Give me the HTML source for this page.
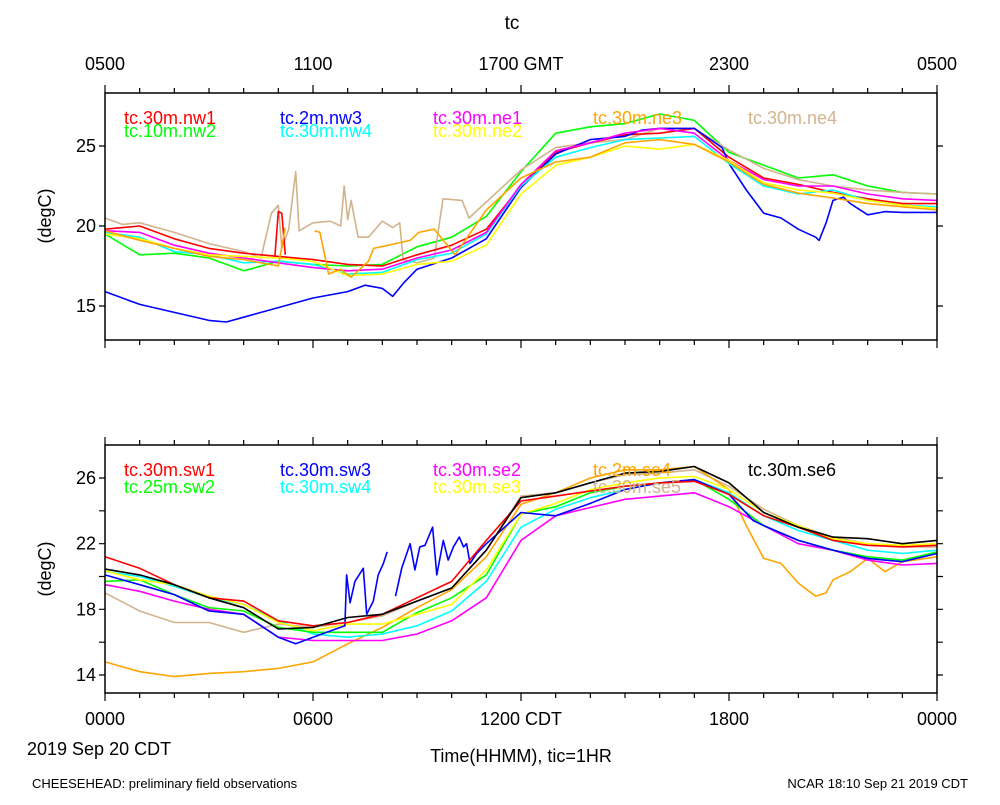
<!DOCTYPE html>
<html><head><meta charset="utf-8"><style>
body{margin:0;background:#fff;}
svg text{font-family:"Liberation Sans",sans-serif;}
</style></head><body>
<svg id="c" width="1000" height="800" xmlns="http://www.w3.org/2000/svg">
<text x="512" y="29" font-size="19" text-anchor="middle">tc</text>
<g font-size="18" text-anchor="middle">
<text x="105" y="70">0500</text><text x="313" y="70">1100</text><text x="521" y="70">1700 GMT</text><text x="729" y="70">2300</text><text x="937" y="70">0500</text>
</g>
<g font-size="18" text-anchor="middle">
<text x="105" y="725">0000</text><text x="313" y="725">0600</text><text x="521" y="725">1200 CDT</text><text x="729" y="725">1800</text><text x="937" y="725">0000</text>
</g>
<text x="27" y="755" font-size="18">2019 Sep 20 CDT</text>
<text x="521" y="762" font-size="18" text-anchor="middle">Time(HHMM), tic=1HR</text>
<text x="32" y="788" font-size="13">CHEESEHEAD: preliminary field observations</text>
<text x="968" y="788" font-size="13" text-anchor="end">NCAR 18:10 Sep 21 2019 CDT</text>
<text transform="translate(51,216) rotate(-90)" font-size="18" text-anchor="middle">(degC)</text>
<text transform="translate(51,569) rotate(-90)" font-size="18" text-anchor="middle">(degC)</text>
<g id="top"></g>
<g id="bot"></g>
</svg>
<script>
const hours=[0,1,2,3,4,5,6,7,8,9,10,11,12,13,14,15,16,17,18,19,20,21,22,23,24];
// top panel
const nw1=[19.8,20.0,19.2,18.6,18.3,18.1,17.9,17.6,17.5,18.2,18.8,19.8,22.5,24.6,25.2,25.7,25.8,26.1,24.3,23.0,22.6,22.1,21.7,21.4,21.4];
const nw1SpikeT=[4.9,5.0,5.1,5.2];
const nw1SpikeV=[18.1,20.9,20.8,18.2];
const nw2=[19.5,18.2,18.3,18.0,17.2,17.8,17.6,17.5,17.6,18.7,19.3,20.6,23.4,25.8,26.2,26.4,27.0,26.6,24.6,23.8,23.0,23.2,22.5,22.1,22.0];
const nw3T=[0,1,2,3,3.5,4,5,6,7,7.5,8,8.3,8.6,9,10,11,12,13,14,15,15.5,16,17,17.8,18,18.5,19,19.5,20,20.5,20.6,20.8,21,21.3,21.5,22,22.5,23,24];
const nw3V=[15.9,15.1,14.6,14.1,14.0,14.3,14.9,15.5,15.9,16.3,16.1,15.6,16.4,17.3,18.0,19.2,22.4,24.5,25.4,25.6,26.0,26.1,26.1,24.9,23.9,22.25,20.8,20.5,19.8,19.3,19.1,20.2,21.6,21.8,21.4,20.7,20.9,20.85,20.85];
const nw4=[19.6,19.3,18.4,18.2,17.7,17.8,17.6,17.0,17.1,17.9,18.3,19.5,22.5,24.3,24.9,25.4,25.5,25.6,23.9,22.5,22.0,22.25,21.6,21.3,21.2];
const ne1=[19.7,19.6,18.8,18.3,18.0,17.7,17.4,17.2,17.3,18.0,18.5,19.6,22.6,24.7,25.2,25.8,26.1,25.8,24.1,22.9,22.5,22.5,22.0,21.7,21.6];
const ne2=[19.5,19.2,18.6,18.2,18.1,18.0,17.8,16.9,17.0,17.6,17.8,18.8,22.0,23.8,24.3,25.0,24.8,25.1,24.1,22.7,22.25,22.05,21.6,21.3,21.1];
const ne3T=[0,1,2,3,4,5,5.2,null,6.05,6.2,6.45,6.8,7.1,7.4,7.6,7.75,8.8,9.05,9.5,10.1,11,12,13,14,15,16,17,18,19,20,21,22,23,24];
const ne3V=[19.7,19.1,18.6,18.1,17.9,17.5,19.9,null,19.7,19.6,17.0,17.3,16.8,17.4,17.8,18.6,19.1,19.6,19.8,18.2,21.0,23.0,24.0,24.3,25.2,25.4,25.1,24.0,22.6,22.05,21.75,21.4,21.2,21.0];
const ne4T=[0,0.5,1,2,3,4,4.5,4.8,5.0,5.1,5.3,5.5,5.6,6,6.5,6.8,6.9,7.0,7.1,7.3,7.6,8,8.3,8.5,8.6,9,9.5,9.75,10.3,10.5,11,12,13,14,15,16,17,18,19,20,21,22,23,24];
const ne4V=[20.5,20.1,20.2,19.6,18.9,18.4,18.0,20.8,21.3,18.6,19.8,23.4,19.7,20.2,20.3,20.0,22.5,20.4,21.6,19.3,19.3,20.3,19.9,20.2,17.9,17.7,18.0,21.7,21.6,20.5,21.5,23.5,24.9,25.2,25.4,26.1,26.1,24.75,23.6,22.9,22.5,22.25,22.1,22.0];
// bottom panel
const sw1=[21.2,20.5,19.5,18.7,18.5,17.3,17.0,17.2,17.7,18.7,19.7,22.2,24.6,24.9,25.2,25.5,25.7,25.8,25.0,23.7,23.0,22.2,21.9,21.8,21.9];
const sw2=[19.7,19.8,18.9,18.1,17.9,16.9,16.6,16.6,16.6,17.8,18.7,20.1,23.8,24.25,25.1,25.5,25.7,25.9,24.7,23.1,22.2,21.6,21.2,21.0,21.5];
const sw3T=[0,1,2,3,4,5,5.5,6,6.92,6.97,7.07,7.21,7.45,7.55,7.74,7.88,8.03,8.14,null,8.38,8.56,8.8,8.94,9.08,9.23,9.45,9.57,9.76,9.9,10.05,10.22,10.34,10.43,10.53,10.72,11,12,13,14,15,16,17,18,18.7,19,20,21,22,23,24];
const sw3V=[20.1,19.5,18.9,17.9,17.7,16.3,15.9,16.3,17.0,20.1,18.4,19.7,20.5,17.7,18.5,20.1,20.8,21.5,null,18.8,20.5,22.0,20.4,21.8,21.9,23.0,20.1,22.2,21.0,21.8,22.4,21.8,22.0,20.8,21.4,22.0,23.9,23.7,24.45,25.3,25.7,25.9,25.0,23.4,23.1,22.2,21.6,21.1,20.9,21.4];
const sw4=[20.3,20.0,19.4,18.7,18.3,17.3,16.5,16.3,16.5,17.0,17.9,19.7,23.0,24.1,24.8,25.3,25.7,25.9,25.1,23.7,22.8,22.2,21.6,21.4,21.6];
const se2=[19.5,19.1,18.5,18.0,17.7,16.3,16.1,16.1,16.1,16.5,17.3,18.7,22.2,23.7,24.2,24.7,24.9,25.1,24.25,23.1,22.0,21.6,21.0,20.7,20.8];
const se3=[20.35,19.8,19.5,18.8,18.3,17.2,16.7,17.1,17.1,17.7,18.3,20.4,23.8,24.45,25.3,25.7,26.0,26.1,25.3,23.9,23.1,22.3,22.0,21.9,22.0];
const se4T=[0,1,2,3,4,5,6,7,8,9,10,11,12,13,14,15,16,17,18,18.5,19,19.5,20,20.5,20.8,21,21.5,22,22.5,23,24];
const se4V=[14.8,14.2,13.9,14.1,14.2,14.4,14.8,15.9,16.9,18.1,19.2,21.2,24.4,25.1,26.0,26.5,26.5,26.7,25.3,23.1,21.1,20.8,19.6,18.8,19.0,19.8,20.3,21.1,20.3,20.9,21.2];
const se5=[19.0,17.9,17.2,17.2,16.6,17.1,16.9,17.2,17.6,18.5,19.3,21.6,24.9,25.1,25.7,26.2,26.3,26.5,25.5,24.1,23.1,22.4,22.0,21.8,21.8];
const se6=[20.45,20.1,19.5,18.7,18.1,16.8,16.9,17.5,17.7,18.5,19.3,21.6,24.8,25.1,25.7,26.3,26.4,26.7,25.7,23.9,23.0,22.4,22.3,22.0,22.2];

const NS='http://www.w3.org/2000/svg';
const X0=105,X1=937;
function xs(h){return X0+(X1-X0)*h/24;}
const topP={y0:93,y1:340,vmin:12.875,vmax:28.3125};
const botP={y0:445,y1:693,vmin:14-18/16.42,vmax:26+33/16.42};
function ys(p,v){return p.y1-(v-p.vmin)/(p.vmax-p.vmin)*(p.y1-p.y0);}
function mk(tag,par){const e=document.createElementNS(NS,tag);par.appendChild(e);return e;}
function line(g,p,t,v,color,name){
  let d='',pen=false;
  for(let i=0;i<t.length;i++){
    if(t[i]===null||v[i]===null){pen=false;continue;}
    d+=(pen?'L':'M')+xs(t[i]).toFixed(1)+','+ys(p,v[i]).toFixed(1);pen=true;
  }
  const e=mk('path',g);
  e.setAttribute('d',d);e.setAttribute('fill','none');e.setAttribute('stroke',color);
  e.setAttribute('stroke-width','1.6');e.setAttribute('stroke-linejoin','round');
  
  
}
function frame(g,p,yt,yl){
  const r=mk('rect',g);
  r.setAttribute('x',X0);r.setAttribute('y',p.y0);r.setAttribute('width',X1-X0);r.setAttribute('height',p.y1-p.y0);
  r.setAttribute('fill','none');r.setAttribute('stroke','#000');r.setAttribute('stroke-width','1.5');
  
  
  let d='';
  for(let h=0;h<=24;h++){const x=xs(h),L=h%6===0?8:5;d+=`M${x},${p.y0}v${-L}M${x},${p.y1}v${L}`;}
  yt.forEach(v=>{const y=ys(p,v);d+=`M${X0},${y}h-6M${X1},${y}h6`;});
  const t=mk('path',g);t.setAttribute('d',d);t.setAttribute('stroke','#000');t.setAttribute('stroke-width','1.2');
  
  
  yl.forEach(v=>{const tx=mk('text',g);tx.setAttribute('x',96);tx.setAttribute('y',ys(p,v)+6);
    tx.setAttribute('font-size','18');tx.setAttribute('text-anchor','end');tx.textContent=v;
    
    });
}
function legend(g,p,items){
  items.forEach(it=>{const tx=mk('text',g);tx.setAttribute('x',it[0]);tx.setAttribute('y',p.y0+it[1]);
    tx.setAttribute('font-size','18');tx.setAttribute('fill',it[3]);tx.textContent=it[2];
    
    });
}
const gt=document.getElementById('top'),gb=document.getElementById('bot');
line(gt,topP,hours,nw2,'#00ff00','series-nw2');
line(gt,topP,ne4T,ne4V,'#d2b48c','series-ne4');
line(gt,topP,nw1SpikeT,nw1SpikeV,'#ff0000','series-nw1-spike');
line(gt,topP,hours,nw1,'#ff0000','series-nw1');
line(gt,topP,nw3T,nw3V,'#0000ff','series-nw3');
line(gt,topP,hours,nw4,'#00ffff','series-nw4');
line(gt,topP,hours,ne1,'#ff00ff','series-ne1');
line(gt,topP,hours,ne2,'#ffff00','series-ne2');
line(gt,topP,ne3T,ne3V,'#ffa500','series-ne3');
frame(gt,topP,[15,20,25],[25,20,15]);
legend(gt,topP,[[124,31,'tc.30m.nw1','#ff0000'],[124,44,'tc.10m.nw2','#00ff00'],[280,31,'tc.2m.nw3','#0000ff'],[280,44,'tc.30m.nw4','#00ffff'],[433,31,'tc.30m.ne1','#ff00ff'],[433,44,'tc.30m.ne2','#ffff00'],[593,31,'tc.30m.ne3','#ffa500'],[748,31,'tc.30m.ne4','#d2b48c']]);

line(gb,botP,hours,se5,'#d2b48c','series-se5');
line(gb,botP,se4T,se4V,'#ffa500','series-se4');
line(gb,botP,hours,se2,'#ff00ff','series-se2');
line(gb,botP,hours,sw4,'#00ffff','series-sw4');
line(gb,botP,hours,sw2,'#00ff00','series-sw2');
line(gb,botP,hours,se3,'#ffff00','series-se3');
line(gb,botP,sw3T,sw3V,'#0000ff','series-sw3');
line(gb,botP,hours,sw1,'#ff0000','series-sw1');
line(gb,botP,hours,se6,'#000000','series-se6');
frame(gb,botP,[14,16,18,20,22,24,26],[26,22,18,14]);
legend(gb,botP,[[124,31,'tc.30m.sw1','#ff0000'],[124,48,'tc.25m.sw2','#00ff00'],[280,31,'tc.30m.sw3','#0000ff'],[280,48,'tc.30m.sw4','#00ffff'],[433,31,'tc.30m.se2','#ff00ff'],[433,48,'tc.30m.se3','#ffff00'],[593,31,'tc.2m.se4','#ffa500'],[593,48,'tc.30m.se5','#d2b48c'],[748,31,'tc.30m.se6','#000000']]);
</script>
</body></html>
